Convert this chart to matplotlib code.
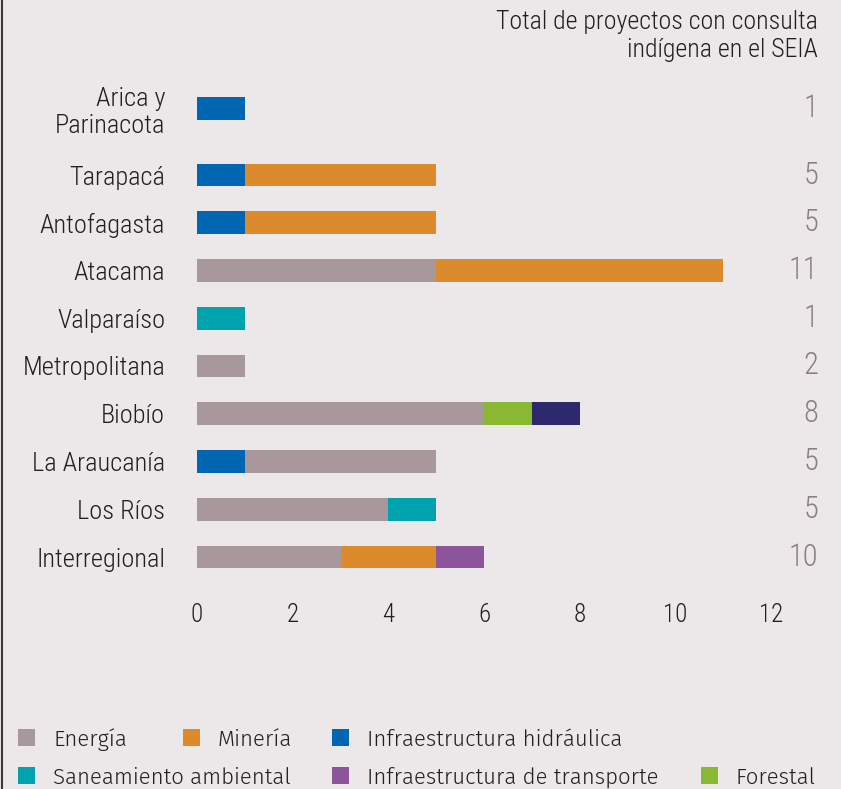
import numpy as np
import matplotlib
matplotlib.use("Agg")
import matplotlib.pyplot as plt
from matplotlib.patches import Rectangle
from matplotlib.transforms import blended_transform_factory

# regiones y conteos de proyectos por tipo
regiones = ["Arica y\nParinacota", "Tarapacá", "Antofagasta", "Atacama", "Valparaíso",
            "Metropolitana", "Biobío", "La Araucanía", "Los Ríos", "Interregional"]
totales = [1, 5, 5, 11, 1, 2, 8, 5, 5, 10]

hidraulica = [1, 1, 1, 0, 0, 0, 0, 1, 0, 0]
energia = [0, 0, 0, 5, 0, 1, 6, 4, 4, 3]
mineria = [0, 4, 4, 6, 0, 0, 0, 0, 0, 2]
saneamiento = [0, 0, 0, 0, 1, 0, 0, 0, 1, 0]
transporte = [0, 0, 0, 0, 0, 0, 0, 0, 0, 1]
forestal = [0, 0, 0, 0, 0, 0, 1, 0, 0, 0]
otros = [0, 0, 0, 0, 0, 0, 1, 0, 0, 0]

FONDO = "#ece8e9"
TEXTO = "#231f20"
GRIS_TOTAL = "#8a7e83"
C_ENERGIA = "#a8979b"
C_MINERIA = "#db8b2b"
C_HIDRAULICA = "#0066b1"
C_SANEAMIENTO = "#00a3ad"
C_TRANSPORTE = "#8b549b"
C_FORESTAL = "#8ab833"
C_OTROS = "#2e286c"

fuente = ["Roboto Condensed", "DejaVu Sans"]
fuente_ley = ["Fira Sans", "Open Sans", "DejaVu Sans"]

W, H = 841, 789
fig = plt.figure(figsize=(W / 100, H / 100), dpi=100, facecolor=FONDO)

# ejes: x=0 en 197 px, 12 en 771 px; filas cada 47.75 px
top_px, bot_px = 60, 596
ax = fig.add_axes([197 / W, 1 - bot_px / H, (771 - 197) / W, (bot_px - top_px) / H])
ax.set_facecolor(FONDO)

paso = 47.75
y = np.arange(len(regiones), dtype=float)
y[0] -= 0.4  # la primera fila va algo más arriba

orden = [
    (hidraulica, C_HIDRAULICA),
    (energia, C_ENERGIA),
    (mineria, C_MINERIA),
    (saneamiento, C_SANEAMIENTO),
    (forestal, C_FORESTAL),
    (otros, C_OTROS),
    (transporte, C_TRANSPORTE),
]
izq = np.zeros(len(regiones))
for valores, color in orden:
    v = np.array(valores, dtype=float)
    ax.barh(y, v, left=izq, height=0.48, color=color, linewidth=0)
    izq += v

ax.set_xlim(0, 12)
ax.set_ylim(1 + (bot_px - 175) / paso, 1 + (top_px - 175) / paso)
ax.set_xticks(range(0, 13, 2))
ax.set_yticks(y)
ax.set_yticklabels(regiones, fontsize=19, family=fuente, weight=300,
                   color=TEXTO, linespacing=1.2)
for lab in ax.get_xticklabels():
    lab.set_fontsize(18)
    lab.set_family(fuente)
    lab.set_weight(300)
    lab.set_color(TEXTO)
ax.tick_params(axis="y", length=0, pad=23)
ax.tick_params(axis="x", length=0, pad=5)
for s in ax.spines.values():
    s.set_visible(False)

# totales a la derecha
tr = blended_transform_factory(fig.transFigure, ax.transData)
for yy, t in zip(y, totales):
    ax.text(818 / W, yy, str(t), transform=tr, ha="right", va="center",
            fontsize=22, family=fuente, weight=300, color=GRIS_TOTAL)

fig.text(818 / W, 1 - 36 / H, "Total de proyectos con consulta\nindígena en el SEIA",
         ha="right", va="center", fontsize=18.6, family=fuente, weight=300,
         color=TEXTO, linespacing=1.2)

# borde izquierdo
fig.add_artist(plt.Line2D([2 / W, 2 / W], [0, 1], transform=fig.transFigure,
                          color="#3a3a3a", linewidth=1.5))

# leyenda
leyenda = [
    ("Energía", C_ENERGIA, 18, 737),
    ("Minería", C_MINERIA, 183, 737),
    ("Infraestructura hidráulica", C_HIDRAULICA, 332, 737),
    ("Saneamiento ambiental", C_SANEAMIENTO, 18, 775),
    ("Infraestructura de transporte", C_TRANSPORTE, 332, 775),
    ("Forestal", C_FORESTAL, 701, 775),
]
for nombre, color, xp, yp in leyenda:
    fig.add_artist(Rectangle((xp / W, 1 - (yp + 8.5) / H), 17 / W, 17 / H,
                             transform=fig.transFigure, color=color, linewidth=0))
    fig.text((xp + 35) / W, 1 - (yp + 2.5) / H, nombre, ha="left", va="center",
             fontsize=16, family=fuente_ley, weight=300, color=TEXTO)

fig.savefig("out.png", dpi=100, facecolor=FONDO)
